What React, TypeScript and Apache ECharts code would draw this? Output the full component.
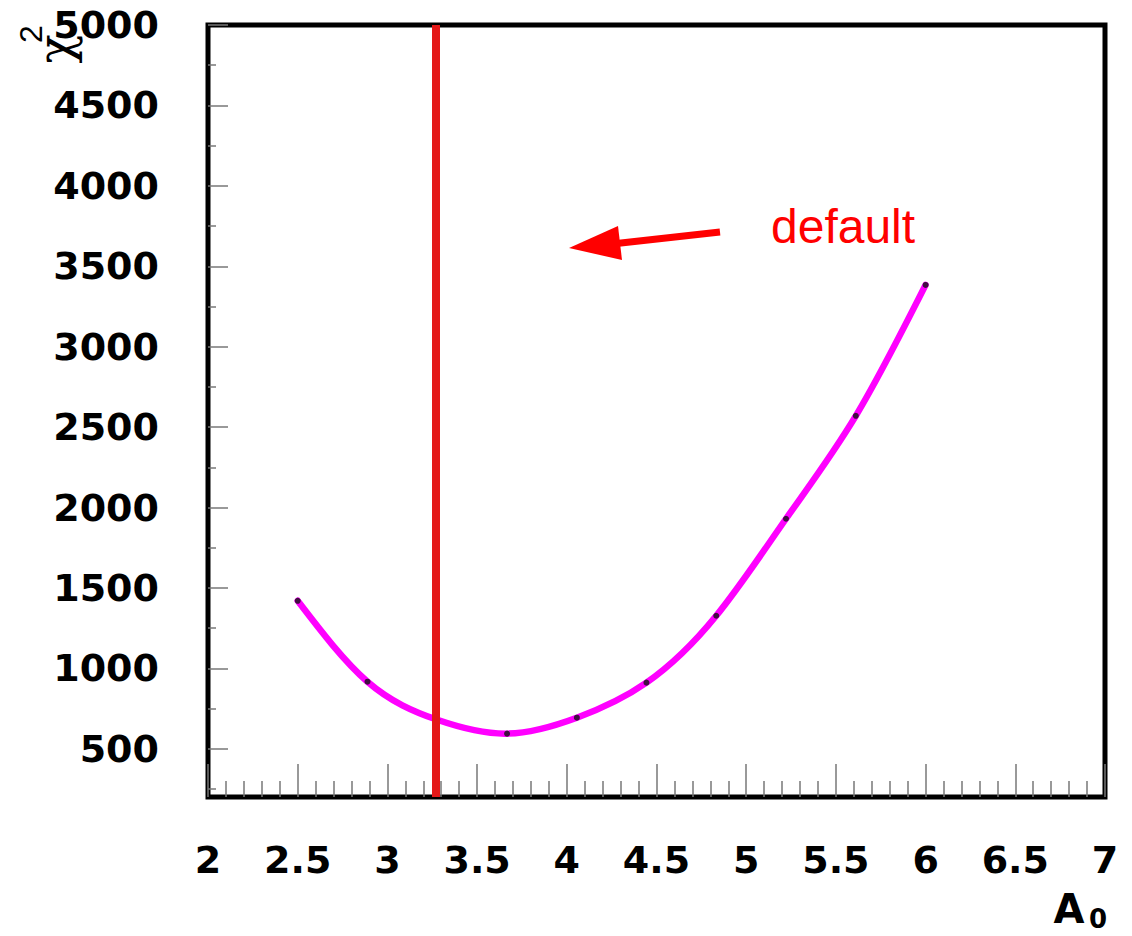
import React, { useEffect, useRef } from "react";
import * as echarts from "echarts";

// Scan points (A0) and chi-square values
const A0_VALUES = [2.5, 2.889, 3.278, 3.667, 4.056, 4.444, 4.833, 5.222, 5.611, 6.0];
const CHI2_VALUES = [1420, 917, 680, 594, 693, 911, 1327, 1930, 2570, 3384];
const DEFAULT_A0 = 3.27;

const X_MIN = 2;
const X_MAX = 7;
const X_STEP = 0.5;
const Y_MIN = 200;
const Y_MAX = 5000;
const Y_MAJOR = [500, 1000, 1500, 2000, 2500, 3000, 3500, 4000, 4500, 5000];
const Y_MINOR = [250, 750, 1250, 1750, 2250, 2750, 3250, 3750, 4250, 4750];

const LABEL_FONT = { fontFamily: "DejaVu Sans", fontWeight: "bold" as const, fontSize: 38, color: "#000" };

// natural cubic spline -> bezier segments in data space
function splineSegments(xs: number[], ys: number[]) {
  const n = xs.length;
  const h: number[] = [];
  for (let i = 0; i < n - 1; i++) h.push(xs[i + 1] - xs[i]);
  const M = new Array(n).fill(0);
  if (n > 2) {
    const a: number[] = [], b: number[] = [], c: number[] = [], r: number[] = [];
    for (let i = 1; i < n - 1; i++) {
      a.push(h[i - 1]);
      b.push(2 * (h[i - 1] + h[i]));
      c.push(h[i]);
      r.push(6 * ((ys[i + 1] - ys[i]) / h[i] - (ys[i] - ys[i - 1]) / h[i - 1]));
    }
    const m = b.length;
    for (let i = 1; i < m; i++) {
      const w = a[i] / b[i - 1];
      b[i] -= w * c[i - 1];
      r[i] -= w * r[i - 1];
    }
    const sol = new Array(m).fill(0);
    sol[m - 1] = r[m - 1] / b[m - 1];
    for (let i = m - 2; i >= 0; i--) sol[i] = (r[i] - c[i] * sol[i + 1]) / b[i];
    for (let i = 0; i < m; i++) M[i + 1] = sol[i];
  }
  const segs: number[][][] = [];
  for (let i = 0; i < n - 1; i++) {
    const hi = h[i];
    const s = (ys[i + 1] - ys[i]) / hi;
    const d0 = s - (hi * (2 * M[i] + M[i + 1])) / 6;
    const d1 = s + (hi * (M[i] + 2 * M[i + 1])) / 6;
    segs.push([
      [xs[i] + hi / 3, ys[i] + (hi / 3) * d0],
      [xs[i + 1] - hi / 3, ys[i + 1] - (hi / 3) * d1],
      [xs[i + 1], ys[i + 1]],
    ]);
  }
  return segs;
}

export default function App() {
  const ref = useRef<HTMLDivElement>(null);
  useEffect(() => {
    if (!ref.current) return;
    const chart = echarts.init(ref.current, null, { renderer: "svg" });
    const tickStyle = { color: "#777", width: 1.5 };
    const points = A0_VALUES.map((x, i) => [x, CHI2_VALUES[i]]);
    const segs = splineSegments(A0_VALUES, CHI2_VALUES);

    const renderCurve = (params: any, api: any) => {
      const s = api.coord(points[0]);
      let d = `M${s[0]},${s[1]}`;
      segs.forEach((seg) => {
        const c1 = api.coord(seg[0]);
        const c2 = api.coord(seg[1]);
        const e = api.coord(seg[2]);
        d += ` C${c1[0]},${c1[1]} ${c2[0]},${c2[1]} ${e[0]},${e[1]}`;
      });
      return {
        type: "path",
        shape: { pathData: d },
        style: { stroke: "#ff00ff", lineWidth: 6.5, fill: "none", lineCap: "round", lineJoin: "round" },
      };
    };

    chart.setOption({
      animation: false,
      backgroundColor: "#fff",
      grid: {
        left: 208,
        right: 27,
        top: 25,
        bottom: 139,
        show: true,
        borderColor: "#000",
        borderWidth: 5,
        backgroundColor: "transparent",
      },
      xAxis: {
        type: "value",
        min: X_MIN,
        max: X_MAX,
        interval: X_STEP,
        axisLine: { show: false },
        splitLine: { show: false },
        axisTick: { show: true, inside: true, length: 33, lineStyle: tickStyle },
        minorTick: { show: true, splitNumber: 5, length: 16, lineStyle: tickStyle },
        axisLabel: {
          ...LABEL_FONT,
          margin: 44,
          showMinLabel: true,
          showMaxLabel: true,
          formatter: (v: number) => String(v),
        },
      },
      yAxis: [
        {
          type: "value",
          min: Y_MIN,
          max: Y_MAX,
          position: "left",
          axisLine: { show: false },
          splitLine: { show: false },
          axisTick: { show: true, inside: true, length: 20, lineStyle: tickStyle, customValues: Y_MAJOR },
          axisLabel: { ...LABEL_FONT, margin: 49, customValues: Y_MAJOR, formatter: (v: number) => String(v) },
        },
        {
          type: "value",
          min: Y_MIN,
          max: Y_MAX,
          position: "left",
          offset: 0,
          axisLine: { show: false },
          splitLine: { show: false },
          axisTick: { show: true, inside: true, length: 8, lineStyle: tickStyle, customValues: Y_MINOR },
          axisLabel: { show: false },
        },
      ],
      series: [
        {
          type: "custom",
          name: "curve",
          data: [points[0]],
          renderItem: renderCurve,
          silent: true,
          clip: false,
          z: 2,
        },
        {
          type: "scatter",
          name: "points",
          data: points,
          symbol: "circle",
          symbolSize: 6,
          itemStyle: { color: "#111" },
          silent: true,
          z: 3,
        },
        {
          type: "line",
          name: "default",
          data: [],
          z: 4,
          markLine: {
            silent: true,
            symbol: ["none", "none"],
            label: { show: false },
            lineStyle: { color: "#e41818", width: 8, type: "solid" },
            data: [{ xAxis: DEFAULT_A0 }],
          },
        },
      ],
      graphic: [
        {
          type: "line",
          shape: { x1: 720, y1: 232, x2: 612, y2: 244 },
          style: { stroke: "#ff0000", lineWidth: 7 },
          z: 10,
        },
        {
          type: "polygon",
          shape: { points: [[569, 248], [618, 226], [622, 260]] },
          style: { fill: "#ff0000" },
          z: 10,
        },
        {
          type: "text",
          x: 771,
          y: 226,
          style: {
            text: "default",
            fill: "#ff0000",
            fontSize: 48,
            fontFamily: "Liberation Sans",
            align: "left",
            verticalAlign: "middle",
          },
          z: 10,
        },
        {
          type: "text",
          x: 55,
          y: 49,
          rotation: Math.PI / 2,
          style: {
            text: "χ",
            fill: "#000",
            fontSize: 48,
            fontFamily: "DejaVu Serif",
            align: "center",
            verticalAlign: "middle",
          },
        },
        {
          type: "text",
          x: 31,
          y: 34,
          rotation: Math.PI / 2,
          style: {
            text: "2",
            fill: "#000",
            fontSize: 32,
            fontFamily: "Liberation Sans",
            align: "center",
            verticalAlign: "middle",
          },
        },
        {
          type: "text",
          x: 1069,
          y: 909,
          style: {
            text: "A",
            fill: "#000",
            fontSize: 40,
            fontWeight: "bold",
            fontFamily: "DejaVu Sans",
            align: "center",
            verticalAlign: "middle",
          },
        },
        {
          type: "text",
          x: 1098,
          y: 919,
          style: {
            text: "0",
            fill: "#000",
            fontSize: 26,
            fontWeight: "bold",
            fontFamily: "DejaVu Sans",
            align: "center",
            verticalAlign: "middle",
          },
        },
      ],
    });
    return () => chart.dispose();
  }, []);
  return (
    <div
      ref={ref}
      style={{ position: "absolute", left: 0, top: 0, width: 1132, height: 936 }}
    />
  );
}
